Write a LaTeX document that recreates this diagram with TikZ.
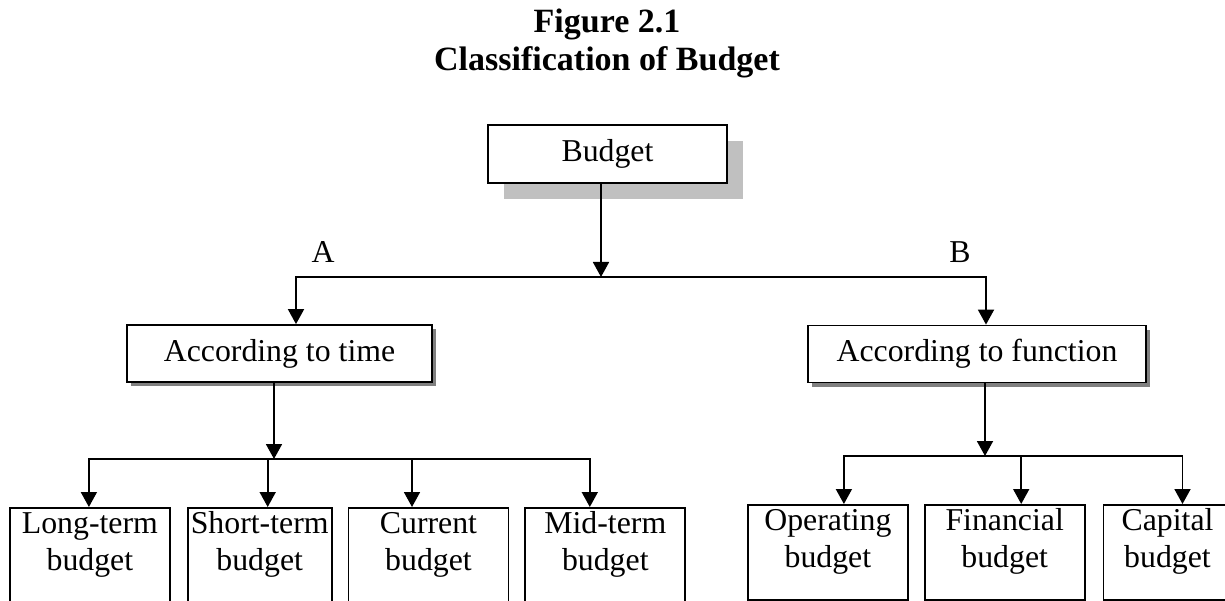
\documentclass[tikz,border=0pt]{standalone}
\usepackage{fontspec}
\setmainfont{Liberation Serif}
\usepackage{tikz}
\usetikzlibrary{positioning, arrows.meta, shadows}
\definecolor{lightshadow}{HTML}{C0C0C0}
\definecolor{darkshadow}{HTML}{808080}
\newcommand{\chartfont}{\fontsize{31.8pt}{37pt}\selectfont}
\newcommand{\titlefont}{\fontsize{34pt}{38pt}\selectfont\bfseries}

\begin{document}
\begin{tikzpicture}[x=1pt, y=-1pt, font=\chartfont, node distance=15pt,
  conn/.style={-{Triangle[length=15pt, width=16pt]}, line width=1.8pt},
  topbox/.style={draw, line width=1.8pt, fill=white, minimum width=239pt, minimum height=58pt,
    drop shadow={shadow xshift=16pt, shadow yshift=-16pt, fill=lightshadow, opacity=1}},
  midbox/.style={draw, line width=1.8pt, fill=white, minimum height=57pt,
    drop shadow={shadow xshift=4pt, shadow yshift=-4pt, fill=darkshadow, opacity=1}},
  leafbox/.style={draw, line width=1.8pt, text width=154pt, align=center, inner xsep=3pt,
    inner ysep=3pt, text height=23pt, text depth=66pt}]
  \useasboundingbox (0,0) rectangle (1225,601);
  \clip (0,0) rectangle (1225,601);

  % title
  \node[font=\titlefont, anchor=base] (figno) at (607,33) {Figure 2.1};
  \node[font=\titlefont, anchor=base] (figtitle) at (607,71) {Classification of Budget};

  % top and middle boxes
  \node[topbox] (budget) at (607.5,154) {Budget};
  \node[midbox, minimum width=305pt] (bytime) at (279.5,353.5) {According to time};
  \node[midbox, minimum width=338pt] (byfunc) at (977,354) {According to function};
  \node (labA) at (323,252) {A};
  \node (labB) at (960,252) {B};

  % junctions
  \coordinate (topjoin) at (601,277);
  \coordinate (tjoin) at (274,459);
  \coordinate (fjoin) at (985,456);

  % leaves by time
  \node[leafbox, anchor=north west] (longterm) at (9,507) {Long-term\\budget};
  \node[leafbox, text width=138pt, right=16pt of longterm] (shortterm) {Short-term\\budget};
  \node[leafbox, right=15pt of shortterm] (current) {Current\\budget};
  \node[leafbox, right=15pt of current] (midterm) {Mid-term\\budget};

  % leaves by function
  \node[leafbox, anchor=north west] (operating) at (747,504) {Operating\\budget};
  \node[leafbox, right=15pt of operating] (financial) {Financial\\budget};
  \node[leafbox, text width=122pt, right=17pt of financial] (capital) {Capital\\budget};

  \draw[conn] (budget.south -| topjoin) -- (topjoin);
  \draw[conn] (topjoin) -| ([xshift=16.5pt]bytime.north);
  \draw[conn] (topjoin) -| ([xshift=9pt]byfunc.north);

  \draw[conn] (bytime.south -| tjoin) -- (tjoin);
  \draw[conn] (tjoin) -| ([xshift=-1pt]longterm.north);
  \draw[conn] (tjoin) -| ([xshift=8pt]shortterm.north);
  \draw[conn] (tjoin) -| ([xshift=-16.5pt]current.north);
  \draw[conn] (tjoin) -| ([xshift=-15.5pt]midterm.north);

  \draw[conn] (byfunc.south -| fjoin) -- (fjoin);
  \draw[conn] (fjoin) -| ([xshift=16pt]operating.north);
  \draw[conn] (fjoin) -| ([xshift=16.5pt]financial.north);
  \draw[conn] (fjoin) -| ([xshift=15pt]capital.north);
\end{tikzpicture}
\end{document}
